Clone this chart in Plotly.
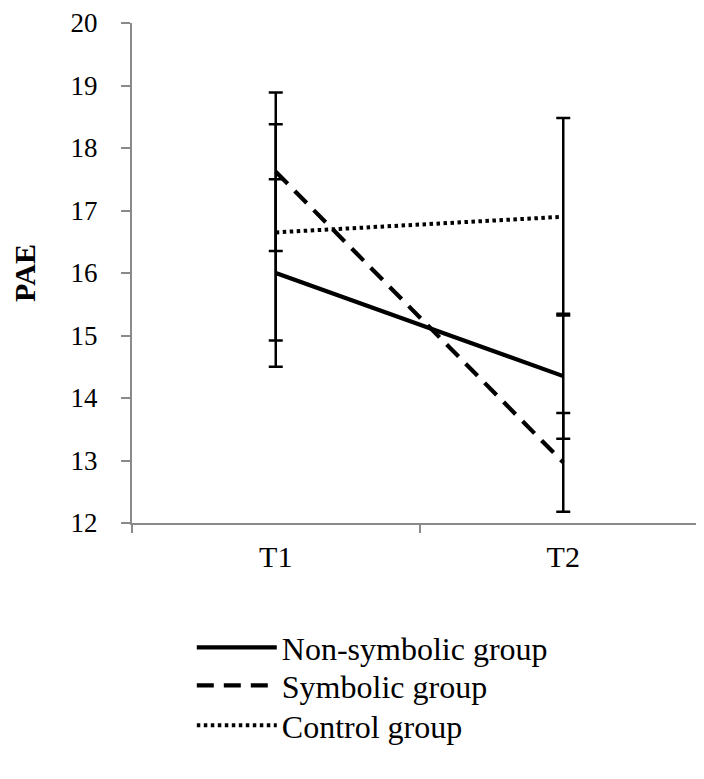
import plotly.graph_objects as go

times = ["T1", "T2"]
non_symbolic = [16.0, 14.35]
non_symbolic_err = [1.5, 1.0]
symbolic = [17.62, 12.97]
symbolic_err = [1.27, 0.79]
control = [16.65, 16.90]
control_err = [1.73, 1.58]

series = [
    ("Non-symbolic group", non_symbolic, non_symbolic_err, "solid", 4.2, "legend", -0.249),
    ("Symbolic group", symbolic, symbolic_err, "17px,10px", 4.2, "legend2", -0.325),
    ("Control group", control, control_err, "3.5px,3.5px", 4.0, "legend3", -0.405),
]

font = "Times New Roman, Liberation Serif, serif"

fig = go.Figure()
legends = {}
for name, vals, errs, dash, w, leg, ly in series:
    fig.add_trace(go.Scatter(
        x=times, y=vals, name=name, mode="lines", legend=leg,
        line=dict(color="black", width=w, dash=dash),
        error_y=dict(type="data", array=errs, visible=True,
                     color="black", thickness=2.5, width=7),
    ))
    legends[leg] = dict(
        x=0.104, y=ly, xanchor="left", yanchor="middle",
        font=dict(family=font, size=32, color="black"),
        itemwidth=80, bgcolor="rgba(0,0,0,0)",
    )

fig.update_layout(
    width=704, height=779,
    margin=dict(l=124, r=5, t=15, b=264, autoexpand=False),
    paper_bgcolor="white", plot_bgcolor="white",
    showlegend=True,
    xaxis=dict(
        type="category", range=[-0.5, 1.5], automargin=False,
        showline=True, linecolor="#8a8a8a", linewidth=2,
        ticks="outside", ticklen=8, tickwidth=2, tickcolor="#8a8a8a",
        tickson="boundaries", showgrid=False, zeroline=False,
        ticklabelstandoff=6,
        tickfont=dict(family=font, size=30, color="black"),
    ),
    yaxis=dict(
        range=[12, 20], dtick=1, automargin=False,
        showline=True, linecolor="#8a8a8a", linewidth=2,
        ticks="outside", ticklen=9, tickwidth=2, tickcolor="#8a8a8a",
        showgrid=False, zeroline=False,
        ticklabelstandoff=18,
        tickfont=dict(family=font, size=27, color="black"),
        title=dict(text="<b>PAE</b>", font=dict(family=font, size=30, color="black"), standoff=26),
    ),
    **legends,
)

fig.write_html("out.html")
